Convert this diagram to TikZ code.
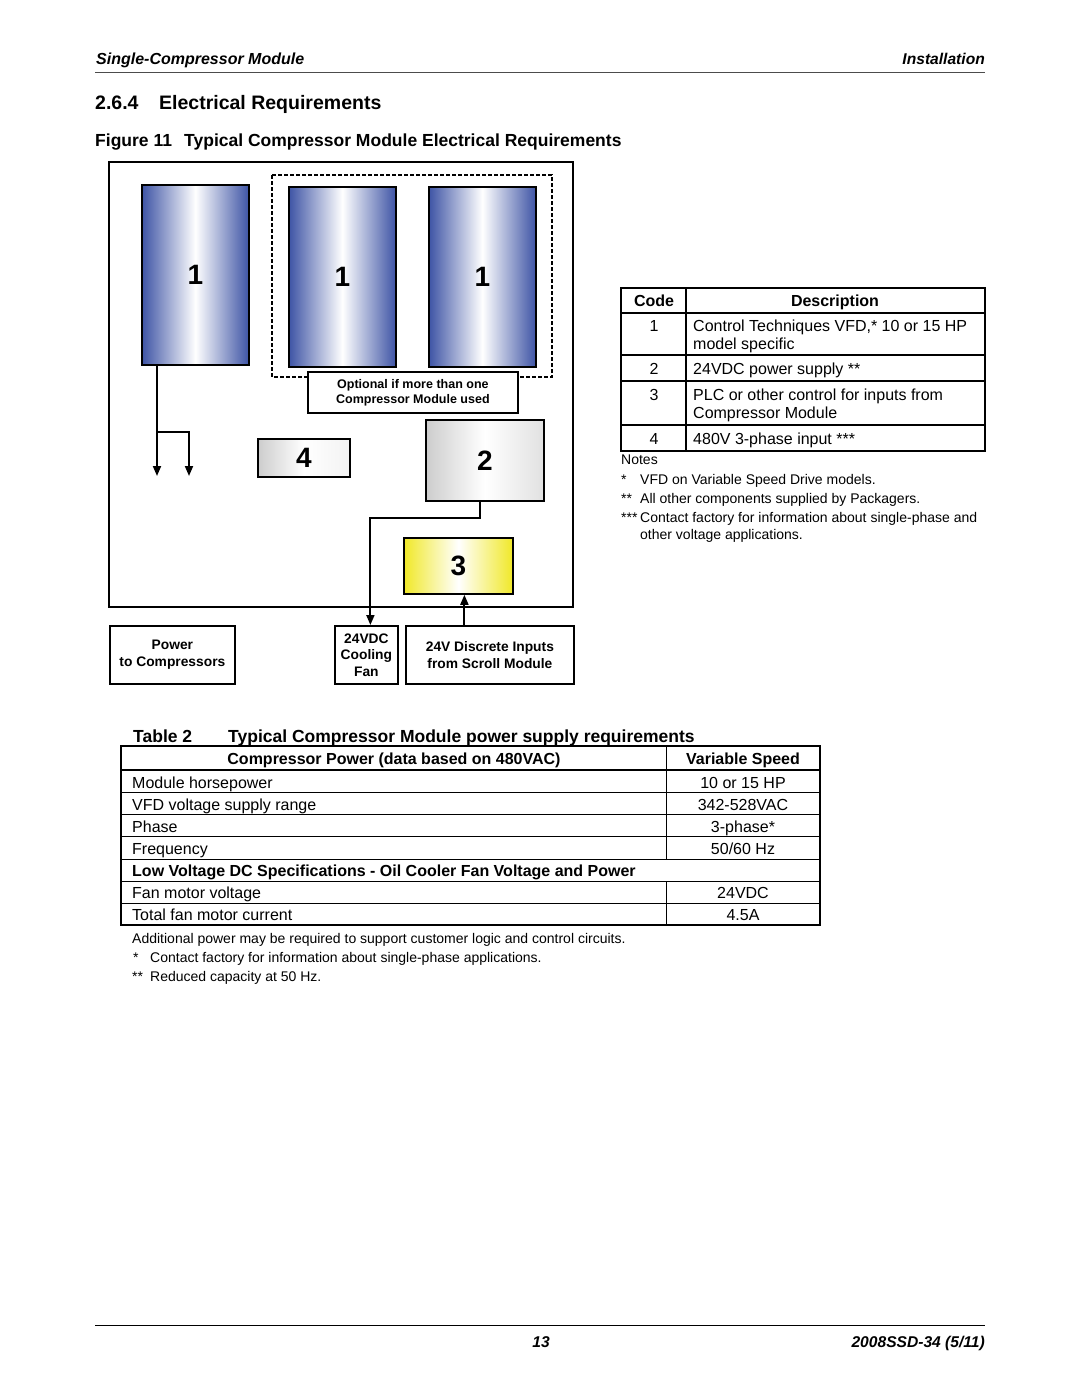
\documentclass[tikz,border=0pt]{standalone}
\usepackage{fontspec}
\setmainfont{Liberation Sans}
\usetikzlibrary{positioning, arrows.meta}
\definecolor{compblue}{RGB}{62,84,165}
\definecolor{boxgray}{RGB}{205,205,205}
\definecolor{plcyellow}{RGB}{240,232,40}
\newcommand\fsz[2]{\fontsize{#1}{#2}\selectfont}
\tikzset{
  txt/.style={inner sep=0, anchor=base west},
  comp/.style={draw, line width=1.8pt, anchor=north west, inner sep=0,
    left color=compblue, right color=compblue, middle color=white,
    minimum width=107pt, minimum height=180pt, font=\bfseries\fsz{28}{30}},
  part/.style={draw, line width=1.8pt, anchor=north west, inner sep=0,
    font=\bfseries\fsz{28}{30}},
  label/.style={draw, line width=1.8pt, anchor=north west, inner sep=0, fill=white,
    align=center, font=\bfseries\fsz{13.8}{16.5}},
  arr/.style={line width=1.9pt, -{Triangle[width=8pt,length=10pt]}},
  grid/.style={line width=1.4pt},
}
\begin{document}
\begin{tikzpicture}[x=1pt, y=-1pt]
  \useasboundingbox[fill=white] (0,0) rectangle (1080,1397);
  % page header
  \node[txt, font=\bfseries\itshape\fsz{16}{18}] (hl) at (96,65) {Single-Compressor Module};
  \node[txt, anchor=base east, font=\bfseries\itshape\fsz{15.6}{18}] (hr) at (985,65) {Installation};
  \draw[line width=1pt, black!70] (95,73) -- (985,73);
  \node[txt, font=\bfseries\fsz{19.5}{22}] (sec) at (95,109) {2.6.4};
  \node[txt, font=\bfseries\fsz{19.5}{22}] (sect) at (159,109) {Electrical Requirements};
  \node[txt, font=\bfseries\fsz{17.5}{20}] (fig) at (95,146) {Figure 11};
  \node[txt, font=\bfseries\fsz{17.5}{20}] (figt) at (184,146) {Typical Compressor Module Electrical Requirements};

  % diagram
  \draw[line width=2.2pt] (109,162) rectangle (573,607);
  \draw[line width=2.4pt, dash pattern=on 4pt off 2pt] (272,175) rectangle (552,377);
  \node[comp] (c1) at (141,184) {1};
  \node[comp] (c2) at (288,186) {1};
  \node[comp] (c3) at (428,186) {1};
  \node[label, font=\bfseries\fsz{12.5}{15}, minimum width=210pt, minimum height=41pt] (opt) at (307,371) {Optional if more than one\\Compressor Module used};
  \node[part, minimum width=92pt, minimum height=38pt, left color=boxgray, right color=white!95!black, middle color=white] (b4) at (257,438) {4};
  \node[part, minimum width=118pt, minimum height=81pt, left color=boxgray, right color=boxgray!60, middle color=white] (b2) at (425,419) {2};
  \node[part, minimum width=109pt, minimum height=56pt, left color=plcyellow, right color=plcyellow, middle color=white] (b3) at (403,537) {3};
  \node[label, minimum width=125pt, minimum height=58pt] (pw) at (109,625) {Power\\to Compressors};
  \node[label, minimum width=63pt, minimum height=58pt] (fan) at (334,625) {24VDC\\Cooling\\Fan};
  \node[label, minimum width=168pt, minimum height=58pt] (inp) at (405,625) {24V Discrete Inputs\\from Scroll Module};

  \coordinate (split) at (157,432);
  \coordinate (out1) at (157,476);
  \coordinate (out2) at (189,476);
  \draw[arr] (c1.south -| out1) -- (out1);
  \draw[arr] (split) -| (out2);
  \draw[arr] ([xshift=-5pt]b2.south) -- ++(0,16) -| ([xshift=4pt]fan.north);
  \draw[arr] ([xshift=6pt]inp.north -| b3.south) -- ([xshift=6pt]b3.south);

  % code table
  \draw[grid] (621,288) rectangle (985,451);
  \draw[grid] (686,288) -- (686,451);
  \foreach \y in {313,355,381,425} \draw[grid] (621,\y) -- (985,\y);
  \begin{scope}[every node/.style={txt, font=\fsz{16}{18}}]
    \node[anchor=base, font=\bfseries\fsz{16}{18}] (h1) at (654,306) {Code};
    \node[anchor=base, font=\bfseries\fsz{16}{18}] (h2) at (835,306) {Description};
    \node[anchor=base] (k1) at (654,331) {1};
    \node[anchor=base] (k2) at (654,374) {2};
    \node[anchor=base] (k3) at (654,400) {3};
    \node[anchor=base] (k4) at (654,444) {4};
    \node (d1) at (693,331) {Control Techniques VFD,* 10 or 15 HP};
    \node (d1b) at (693,349) {model specific};
    \node (d2) at (693,374) {24VDC power supply **};
    \node (d3) at (693,400) {PLC or other control for inputs from};
    \node (d3b) at (693,418) {Compressor Module};
    \node (d4) at (693,444) {480V 3-phase input ***};
  \end{scope}
  \begin{scope}[every node/.style={txt, font=\fsz{14}{16}}]
    \node (n0) at (621,464) {Notes};
    \node (n1) at (621,484) {*};
    \node (n1t) at (640,484) {VFD on Variable Speed Drive models.};
    \node (n2) at (621,503) {**};
    \node (n2t) at (640,503) {All other components supplied by Packagers.};
    \node (n3) at (621,522) {***};
    \node (n3t) at (640,522) {Contact factory for information about single-phase and};
    \node (n3b) at (640,539) {other voltage applications.};
  \end{scope}

  % table 2
  \node[txt, font=\bfseries\fsz{17.5}{20}] (tab) at (133,742) {Table 2};
  \node[txt, font=\bfseries\fsz{17.5}{20}] (tabt) at (228,742) {Typical Compressor Module power supply requirements};
  \draw[grid] (121,746) rectangle (820,925);
  \draw[line width=2pt] (121,769.5) -- (820,769.5);
  \foreach \y in {792,814,836,859,881,903} \draw[line width=0.9pt] (121,\y) -- (820,\y);
  \draw[line width=0.9pt] (666,746) -- (666,859);
  \draw[line width=0.9pt] (666,881) -- (666,925);
  \begin{scope}[every node/.style={txt, font=\fsz{16}{18}}]
    \node[anchor=base, font=\bfseries\fsz{16}{18}] (th1) at (394,764) {Compressor Power (data based on 480VAC)};
    \node[anchor=base, font=\bfseries\fsz{16}{18}] (th2) at (743,764) {Variable Speed};
    \node (r1) at (132,788) {Module horsepower};
    \node (r2) at (132,810) {VFD voltage supply range};
    \node (r3) at (132,832) {Phase};
    \node (r4) at (132,854) {Frequency};
    \node[font=\bfseries\fsz{16}{18}] (r5) at (132,876) {Low Voltage DC Specifications - Oil Cooler Fan Voltage and Power};
    \node (r6) at (132,898) {Fan motor voltage};
    \node (r7) at (132,920) {Total fan motor current};
    \node[anchor=base] (v1) at (743,788) {10 or 15 HP};
    \node[anchor=base] (v2) at (743,810) {342-528VAC};
    \node[anchor=base] (v3) at (743,832) {3-phase*};
    \node[anchor=base] (v4) at (743,854) {50/60 Hz};
    \node[anchor=base] (v6) at (743,898) {24VDC};
    \node[anchor=base] (v7) at (743,920) {4.5A};
  \end{scope}
  \begin{scope}[every node/.style={txt, font=\fsz{14}{16}}]
    \node (m0) at (132,943) {Additional power may be required to support customer logic and control circuits.};
    \node (m1) at (133,962) {*};
    \node (m1t) at (150,962) {Contact factory for information about single-phase applications.};
    \node (m2) at (132,981) {**};
    \node (m2t) at (150,981) {Reduced capacity at 50 Hz.};
  \end{scope}

  % footer
  \draw[line width=1pt] (95,1325) -- (985,1325);
  \node[txt, anchor=base, font=\bfseries\itshape\fsz{15.6}{18}] (pg) at (541,1347) {13};
  \node[txt, anchor=base east, font=\bfseries\itshape\fsz{15.6}{18}] (doc) at (985,1347) {2008SSD-34 (5/11)};
\end{tikzpicture}
\end{document}
